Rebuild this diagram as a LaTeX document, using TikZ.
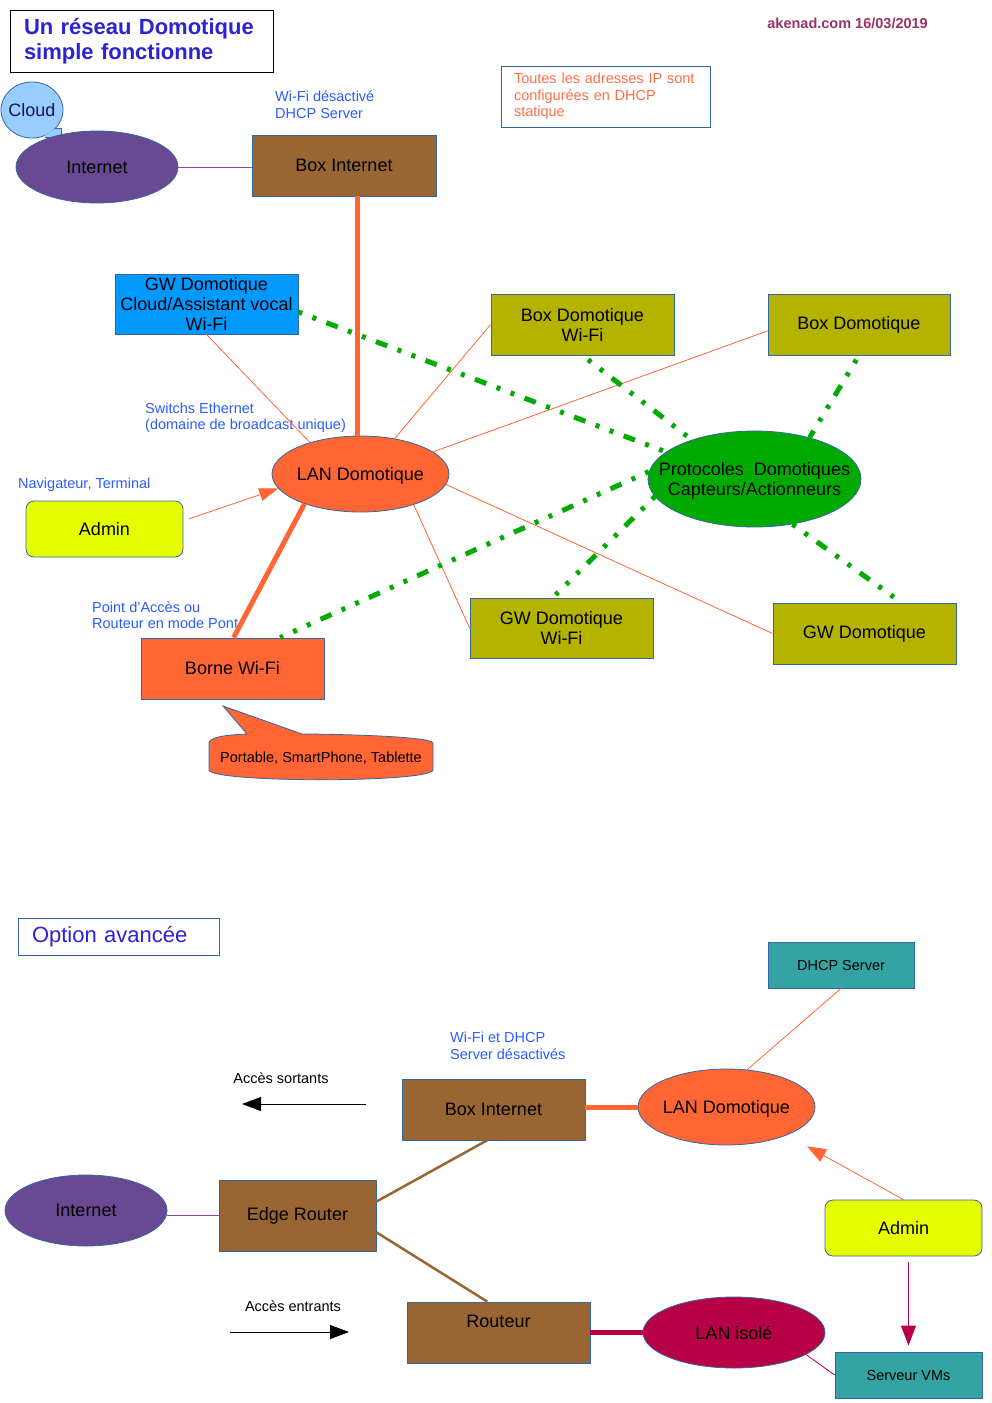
\documentclass[tikz,border=0pt]{standalone}
\usepackage{fontspec}
\setmainfont{Liberation Sans}
\usetikzlibrary{shapes.geometric,arrows.meta}

\definecolor{bord}{RGB}{52,101,164}
\definecolor{orF}{RGB}{255,102,51}
\definecolor{brF}{RGB}{153,102,51}
\definecolor{olF}{RGB}{179,179,0}
\definecolor{grF}{RGB}{0,170,0}
\definecolor{puF}{RGB}{105,73,145}
\definecolor{puL}{RGB}{150,70,165}
\definecolor{blF}{RGB}{0,153,255}
\definecolor{clF}{RGB}{153,204,255}
\definecolor{yeF}{RGB}{230,255,0}
\definecolor{teF}{RGB}{51,163,163}
\definecolor{crF}{RGB}{184,0,70}
\definecolor{lblue}{RGB}{42,92,255}
\definecolor{tblue}{RGB}{45,35,210}
\definecolor{noteor}{RGB}{255,110,70}
\definecolor{plum}{RGB}{153,51,102}
\definecolor{navy}{RGB}{20,20,80}

\newcommand{\myBig}{\fontsize{18}{20}\selectfont}
\newcommand{\mySmall}{\fontsize{14.5}{16.5}\selectfont}
\newcommand{\myTitle}{\fontsize{22}{24.5}\selectfont}
\newcommand{\zw}[1]{\raisebox{-2pt}[\height][\depth]{\makebox[0pt]{#1}}}
\newcommand{\zn}[1]{\makebox[0pt]{#1}}

\tikzset{
  box/.style={draw=bord, line width=0.8pt, inner sep=0pt, align=center, font=\myBig, text=black},
  ell/.style={ellipse, draw=bord, line width=0.8pt, inner sep=0pt, align=center, font=\myBig, text=black},
  lbl/.style={font=\mySmall, text=lblue, align=left, inner sep=0pt, anchor=west},
  thinor/.style={draw=orF, line width=0.8pt},
  thickor/.style={draw=orF, line width=5pt},
  gdash/.style={draw=grF, line width=5pt, dash pattern=on 4pt off 11pt on 4pt off 11pt on 12pt off 11pt},
  bigtip/.style={-{Triangle[length=19pt,width=14pt]}},
}

\begin{document}
\begin{tikzpicture}[x=1pt,y=-1pt]
\useasboundingbox (0,0) rectangle (992,1403);

% ---------- top part ----------
\node[draw=black, line width=0.8pt, minimum width=263pt, minimum height=62pt, inner xsep=14pt, inner ysep=0pt,
      text width=235pt, align=left, font=\myTitle\bfseries, text=tblue] (title) at (141.5,41)
  {Un réseau Domotique\\simple fonctionne};

\node[anchor=east, inner sep=0pt, font=\mySmall\bfseries, text=plum] (auth) at (928,23) {akenad.com 16/03/2019};

\node[draw=bord, line width=0.8pt, minimum width=209pt, minimum height=61pt, inner xsep=13pt, inner ysep=0pt,
      text width=183pt, align=left, font=\mySmall, text=noteor] (note) at (605.5,96.5)
  {Toutes les adresses IP sont\\configurées en DHCP\\statique};

% cloud callout
\node[ell, fill=clF, minimum width=62pt, minimum height=56pt, text=navy] (cloud) at (32,110) {\zn{Cloud}};
\fill[clF] (55,128.8) -- (61,128.8) -- (61,137) -- (45,137) -- (45,135.4) -- cycle;
\draw[bord, line width=0.8pt] (55,128.8) -- (61,128.8) -- (61,137) -- (45,137);

\node[ell, fill=puF, minimum width=162pt, minimum height=72pt] (inet) at (97,167) {\zn{Internet}};
\node[box, fill=brF, minimum width=184pt, minimum height=61pt] (boxint) at (344,165.5) {Box Internet};
\node[lbl] (wifilbl) at (275,104.5) {Wi-Fi désactivé\\DHCP Server};

\node[box, fill=blF, minimum width=183pt, minimum height=60pt] (gwcloud) at (206.5,304)
  {GW Domotique\\Cloud/Assistant vocal\\Wi-Fi};

\node[ell, fill=orF, minimum width=177pt, minimum height=76pt] (lan) at (360.5,474) {\zw{LAN Domotique}};

\node[box, fill=olF, minimum width=183pt, minimum height=61pt] (bdwifi) at (582.5,324.5) {Box Domotique\\Wi-Fi};
\node[box, fill=olF, minimum width=182pt, minimum height=61pt] (bdom) at (859,324.5) {Box Domotique};

\node[ell, fill=grF, minimum width=213pt, minimum height=96pt] (proto) at (754.5,479)
  {\zw{\begin{tabular}{@{}c@{}}Protocoles~~Domotiques\\Capteurs/Actionneurs\end{tabular}}};

\node[box, fill=olF, minimum width=183pt, minimum height=60pt] (gwwifi) at (561.5,628) {GW Domotique\\Wi-Fi};
\node[box, fill=olF, minimum width=183pt, minimum height=61pt] (gwdom) at (864.5,633.5) {GW Domotique};

\node[box, fill=yeF, rounded corners=8pt, minimum width=157pt, minimum height=56pt] (admin) at (104.5,529) {Admin};
\node[lbl] (navlbl) at (18,485) {Navigateur, Terminal};
\node[lbl] (swlbl) at (145,417.5) {Switchs Ethernet\\(domaine de broadcast unique)};

\node[box, fill=orF, minimum width=183pt, minimum height=61pt] (borne) at (232.5,668.5) {Borne Wi-Fi};
\node[lbl] (aplbl) at (92,615) {Point d'Accès ou\\Routeur en mode Pont};

% portable callout
\filldraw[fill=orF, draw=bord, line width=0.8pt]
  (209,743) -- (209,770) .. controls (212,783) and (430,783) .. (433,770)
  -- (433,743) .. controls (431,736) and (330,734) .. (302,734)
  -- (223,706) -- (247,734) .. controls (225,735) and (210,737) .. (209,743) -- cycle;
\node[font=\mySmall, text=black, inner sep=0pt] (portable) at (321,758) {Portable, SmartPhone, Tablette};

% connectors top
\draw[puL, line width=0.8pt] (inet.east) -- (inet.east -| boxint.west);
\draw[thinor] (gwcloud.south) -- (lan.148);
\draw[thinor] (lan.46) -- (bdwifi.west);
\draw[thinor] (lan.17) -- (bdom.184);
\draw[thinor] (lan.-7) -- (gwdom.west);
\draw[thinor] (lan.-30) -- (gwwifi.west);
\draw[thinor, -{Triangle[length=19pt,width=13pt]}, shorten <=6pt] (admin.6) -- (lan.190);
\draw[thickor] (lan.94) -- (lan.94 |- boxint.south);
\draw[thickor] (lan.208) -- (borne.88);

\draw[gdash] (gwcloud.-5) -- (proto.163);
\draw[gdash, shorten <=7pt] (bdwifi.south) -- (proto.148);
\draw[gdash, shorten <=5pt] (bdom.south) -- (proto.37);
\draw[gdash, shorten >=5pt] (proto.-50) -- (gwdom.40);
\draw[gdash, shorten >=4pt] (proto.190) -- (gwwifi.106);
\draw[gdash] (proto.176) -- (borne.33);

% ---------- bottom part ----------
\node[draw=bord, line width=0.8pt, minimum width=201pt, minimum height=37pt, inner xsep=14pt, inner ysep=0pt,
      text width=173pt, align=left, font=\myTitle, text=tblue] (option) at (118.5,936.5) {Option avancée};

\node[box, fill=teF, font=\mySmall, minimum width=146pt, minimum height=46pt] (dhcp) at (841,965) {DHCP Server};
\node[ell, fill=orF, minimum width=177pt, minimum height=76pt] (lan2) at (726.5,1107) {\zw{LAN Domotique}};
\node[box, fill=brF, minimum width=183pt, minimum height=61pt] (boxint2) at (493.5,1109.5) {Box Internet};
\node[lbl] (wifi2lbl) at (450,1046) {Wi-Fi et DHCP\\Server désactivés};

\node[font=\mySmall, inner sep=0pt] (sortlbl) at (281,1078) {Accès sortants};
\coordinate (so1) at (366,1104);
\coordinate (so2) at (242,1104);

\node[ell, fill=puF, minimum width=162pt, minimum height=71pt] (inet2) at (86,1210.5) {\zn{Internet}};
\node[box, fill=brF, minimum width=157pt, minimum height=71pt] (edge) at (297.5,1215.5) {Edge Router};

\node[font=\mySmall, inner sep=0pt] (entlbl) at (293,1306) {Accès entrants};
\coordinate (en1) at (230,1332);
\coordinate (en2) at (349,1332);

\node[box, fill=brF, minimum width=183pt, minimum height=61pt] (routeur) at (498.5,1332.5) {\raisebox{-2pt}[\height][\depth]{Routeur}\\\strut};
\node[ell, fill=crF, minimum width=182pt, minimum height=71pt] (laniso) at (734,1332.5) {\zn{LAN isolé}};

\node[box, fill=yeF, rounded corners=8pt, minimum width=157pt, minimum height=56pt] (admin2) at (903.5,1228) {Admin};
\node[box, fill=teF, font=\mySmall, minimum width=147pt, minimum height=46pt] (serveur) at (908.5,1375) {Serveur VMs};

% connectors bottom
\draw[thinor] (dhcp.south) -- (lan2.61);
\draw[thickor] (lan2.west) -- (lan2.west -| boxint2.east);
\draw[black, line width=0.8pt, bigtip] (so1) -- (so2);
\draw[puL, line width=0.8pt] (edge.west) -- (edge.west -| inet2.east);
\draw[brF, line width=2.5pt] (edge.10) -- (boxint2.258);
\draw[brF, line width=2.5pt] (edge.-12) -- (routeur.110);
\draw[crF, line width=5pt] (routeur.east) -- (laniso.west);
\draw[black, line width=0.8pt, bigtip] (en1) -- (en2);
\draw[thinor, bigtip, shorten >=23pt] (admin2.north) -- (lan2.-25);
\draw[crF, line width=0.8pt, -{Triangle[length=20pt,width=15pt]}, shorten <=6pt, shorten >=6pt]
  (serveur.north |- admin2.south) -- (serveur.north);
\draw[crF, line width=0.8pt] (laniso.-17) -- (serveur.west);
\end{tikzpicture}
\end{document}
